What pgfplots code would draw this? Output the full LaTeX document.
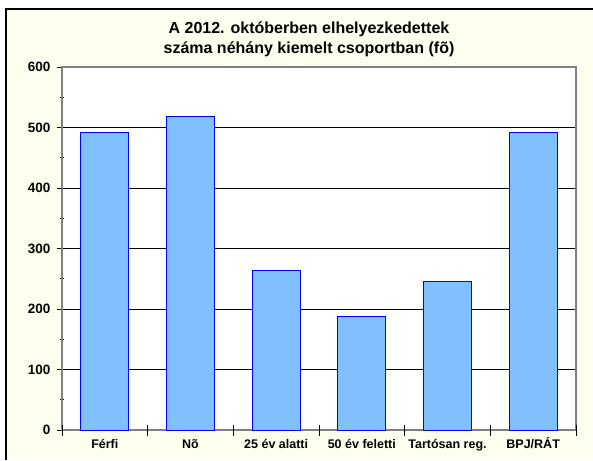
\documentclass[border=0pt]{standalone}
\usepackage{fontspec}
\setmainfont{Liberation Sans}
\usepackage{pgfplots}
\pgfplotsset{compat=1.18}
\definecolor{bg}{HTML}{FFFFF0}
\definecolor{barfill}{HTML}{80C0FF}
\definecolor{axgray}{HTML}{808080}
\begin{document}
\begin{tikzpicture}[x=1pt,y=1pt]
\useasboundingbox (0,0) rectangle (593,460);
\fill[bg] (6,0) rectangle (593,451);
\draw[black,line width=1.2pt] (6,0) -- (6,451) -- (593,451);
\node[font=\fontsize{16}{20}\selectfont\bfseries, align=center] at (309,420.5) {A 2012. októberben elhelyezkedettek\\száma néhány kiemelt csoportban (fõ)};
\begin{axis}[
  at={(62pt,30pt)}, anchor=south west,
  scale only axis, width=514pt, height=363pt,
  xmin=-0.5, xmax=5.5, ymin=0, ymax=600,
  axis background/.style={fill=white},
  axis line style={axgray, line width=1.2pt},
  xtick pos=bottom, ytick pos=left,
  ytick={0,100,...,600},
  minor ytick={50,150,...,550},
  xtick={0,...,5},
  xticklabels={Férfi, Nõ, 25 év alatti, 50 év feletti, Tartósan reg., BPJ/RÁT},
  x tick style={draw=none},
  extra x ticks={-0.5,0.5,1.5,2.5,3.5,4.5,5.5},
  extra x tick labels={},
  extra x tick style={x tick style={draw=black, line width=0.8pt}, major tick length=11pt, tick align=center, grid=none},
  ymajorgrids,
  major y grid style={black, line width=0.8pt},
  y tick style={black, line width=0.8pt},
  ytick align=outside,
  major tick length=5pt,
  minor tick length=4pt,
  minor y tick style={/pgfplots/tick align=center},
  /pgf/number format/assume math mode=true,
  yticklabel style={font=\fontsize{13.5}{15}\selectfont\bfseries, xshift=-3pt},
  xticklabel style={font=\fontsize{12.5}{15}\selectfont\bfseries, text height=9pt, text depth=2pt, yshift=-1pt},
  ybar, bar width=48pt,
]
\addplot[fill=barfill, draw=blue, line width=1pt] coordinates {(0,491) (1,519) (2,263) (3,187) (4,246) (5,491)};
\end{axis}
\end{tikzpicture}
\end{document}
